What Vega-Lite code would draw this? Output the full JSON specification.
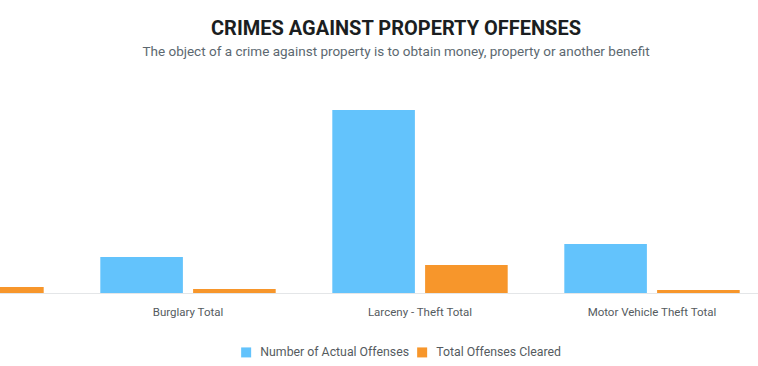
{
  "$schema": "https://vega.github.io/schema/vega-lite/v6.json",
  "width": 928,
  "height": 213,
  "autosize": {"type": "none"},
  "padding": {"left": -160, "top": 80, "right": -10, "bottom": 73},
  "background": "white",
  "title": {
    "text": "CRIMES AGAINST PROPERTY OFFENSES",
    "subtitle": "The object of a crime against property is to obtain money, property or another benefit",
    "anchor": "middle",
    "dx": 92,
    "offset": 22,
    "font": "Roboto",
    "fontSize": 20,
    "fontWeight": "bold",
    "color": "#1b1e21",
    "subtitleFont": "Roboto",
    "subtitleFontSize": 13.5,
    "subtitleColor": "#5c6870",
    "subtitlePadding": 6
  },
  "data": {
    "values": [
      {"category": "Robbery Total", "series": "Number of Actual Offenses", "value": 2000},
      {"category": "Robbery Total", "series": "Total Offenses Cleared", "value": 600},
      {"category": "Burglary Total", "series": "Number of Actual Offenses", "value": 3600},
      {"category": "Burglary Total", "series": "Total Offenses Cleared", "value": 400},
      {"category": "Larceny - Theft Total", "series": "Number of Actual Offenses", "value": 18300},
      {"category": "Larceny - Theft Total", "series": "Total Offenses Cleared", "value": 2800},
      {"category": "Motor Vehicle Theft Total", "series": "Number of Actual Offenses", "value": 4900},
      {"category": "Motor Vehicle Theft Total", "series": "Total Offenses Cleared", "value": 300}
    ]
  },
  "mark": {"type": "bar"},
  "encoding": {
    "x": {
      "field": "category",
      "type": "nominal",
      "sort": null,
      "scale": {"paddingInner": 0.2, "paddingOuter": 0.1},
      "axis": {
        "title": null,
        "labelAngle": 0,
        "ticks": false,
        "domainColor": "#e4e6e8",
        "labelColor": "#555b60",
        "labelFont": "Roboto",
        "labelFontSize": 11.5,
        "labelPadding": 13,
        "grid": false
      }
    },
    "xOffset": {
      "field": "series",
      "type": "nominal",
      "sort": null,
      "scale": {"paddingInner": 0.11, "paddingOuter": 0.055}
    },
    "y": {
      "field": "value",
      "type": "quantitative",
      "scale": {"domain": [0, 21300], "nice": false},
      "axis": null
    },
    "color": {
      "field": "series",
      "type": "nominal",
      "sort": null,
      "scale": {"range": ["#63c3fc", "#f7962b"]},
      "legend": {
        "title": null,
        "orient": "none",
        "direction": "horizontal",
        "legendX": 400,
        "legendY": 266,
        "symbolType": "square",
        "symbolSize": 100,
        "symbolStrokeWidth": 0,
        "symbolOpacity": 1,
        "labelOffset": 8,
        "columnPadding": 7,
        "labelColor": "#555b60",
        "labelFont": "Roboto",
        "labelFontSize": 12.3,
        "padding": 0
      }
    }
  },
  "config": {"view": {"stroke": null}}
}
